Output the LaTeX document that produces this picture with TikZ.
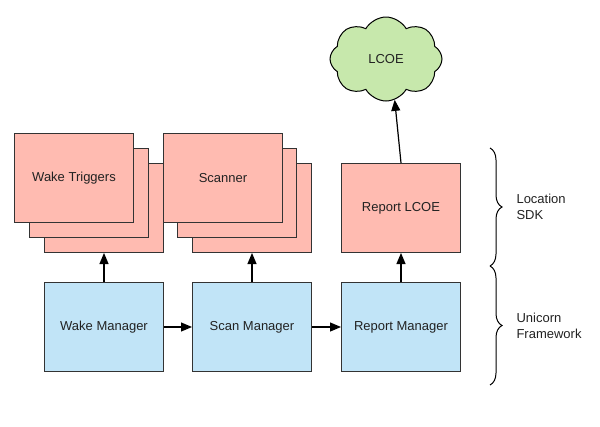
\documentclass[tikz,border=0pt]{standalone}
\usepackage{fontspec}
\setmainfont{Liberation Sans}
\usetikzlibrary{shapes.symbols,decorations.pathreplacing,arrows.meta}
\definecolor{pinkfill}{HTML}{FFBBB1}
\definecolor{bluefill}{HTML}{C1E4F7}
\definecolor{greenfill}{HTML}{C7E8AC}
\definecolor{edge}{HTML}{333333}
\definecolor{txt}{HTML}{222222}
\begin{document}
\begin{tikzpicture}[x=1pt,y=-1pt,
  every node/.style={font=\fontsize{13}{16}\selectfont, text=txt},
  box/.style={draw=edge, line width=1pt, minimum width=119pt, minimum height=89pt, inner sep=0pt, anchor=north west},
  pinkbox/.style={box, fill=pinkfill},
  bluebox/.style={box, fill=bluefill},
  conn/.style={draw=black, line width=1.2pt, -{Triangle[length=11pt,width=9pt]}},
  bracestyle/.style={draw=black, line width=1pt, decorate, decoration={brace, amplitude=12pt}}
]
\useasboundingbox (0,0) rectangle (600,426);
% Wake triggers stack
\node[pinkbox] (wt3) at (44,163) {};
\node[pinkbox] (wt2) at (29,148) {};
\node[pinkbox] (wt) at (14,133) {Wake Triggers};
% Scanner stack
\node[pinkbox] (sc3) at (192,163) {};
\node[pinkbox] (sc2) at (177,148) {};
\node[pinkbox] (sc) at (163,133) {Scanner};
% Report LCOE
\node[pinkbox] (rl) at (341,163) {Report LCOE};
% Managers
\node[bluebox] (wm) at (44,282) {Wake Manager};
\node[bluebox] (sm) at (192,282) {Scan Manager};
\node[bluebox] (rm) at (341,282) {Report Manager};
% Cloud
\node[cloud, cloud puffs=8, cloud puff arc=120, aspect=1.35, draw=black, line width=1pt, fill=greenfill, minimum width=112pt, minimum height=84pt, inner sep=0pt] (lcoe) at (386,59) {LCOE};
% connectors
\draw[conn] (wm.north) -- (wt3.south);
\draw[conn] (sm.north) -- (sc3.south);
\draw[conn] (rm.north) -- (rl.south);
\draw[conn] (wm.east) -- (sm.west);
\draw[conn] (sm.east) -- (rm.west);
\draw[conn] (rl.north) -- (lcoe.-78);
% braces
\coordinate (b1) at (490,148);
\coordinate (b2) at (490,266);
\coordinate (b3) at (490,385);
\draw[bracestyle] (b1) -- (b2);
\draw[bracestyle] (b2) -- (b3);
\node[anchor=west, align=left] (sdk) at (513,207) {Location\\SDK};
\node[anchor=west, align=left] (uf) at (513,326) {Unicorn\\Framework};
\end{tikzpicture}
\end{document}
